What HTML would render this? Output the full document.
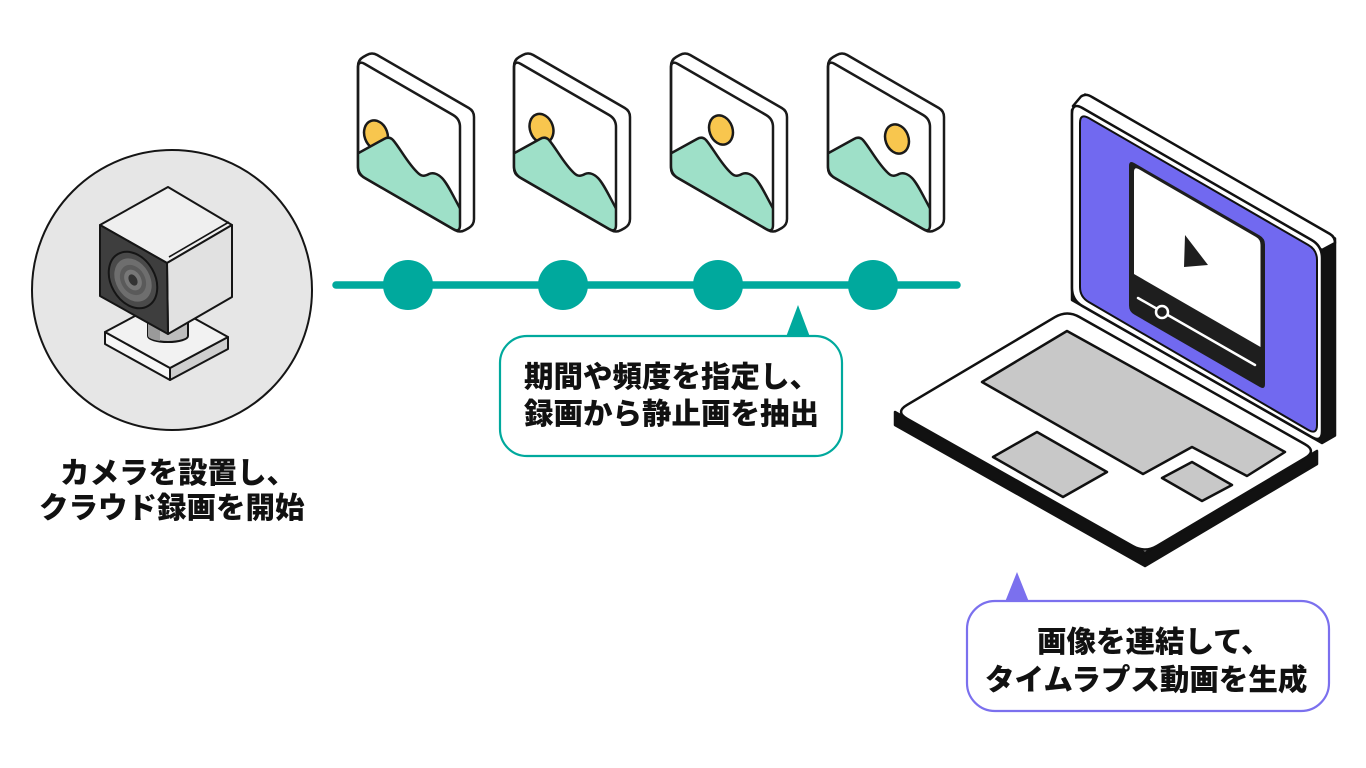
<!DOCTYPE html>
<html><head><meta charset="utf-8"><style>
html,body{margin:0;padding:0;background:#fff;}
svg{display:block;}
text{font-family:"Liberation Sans","Noto Sans CJK JP",sans-serif;font-weight:900;font-size:29.5px;fill:#111;}
</style></head><body>
<svg width="1366" height="768" viewBox="0 0 1366 768" xmlns="http://www.w3.org/2000/svg">
<defs>
<clipPath id="ff"><path d="M0,8 Q0,0 6.9,4 L95.1,55 Q102,59 102,67 L102,165 Q102,173 95.1,169 L6.9,118 Q0,114 0,106 Z"/></clipPath>
</defs>
<rect width="1366" height="768" fill="#fff"/>

<!-- Camera -->
<circle cx="172" cy="290" r="140" fill="#e6e6e6" stroke="#151515" stroke-width="2"/>
<g stroke="#151515" stroke-width="2" stroke-linejoin="round">
  <polygon points="105,332 170,368 170,380 105,344" fill="#f6f6f6"/>
  <polygon points="170,368 228,337 228,349 170,380" fill="#cfcfcf"/>
  <polygon points="105,332 163,301 228,337 170,368" fill="#f2f2f2"/>
  <path d="M148,315 L148,336 A20,6 0 0 0 188,336 L188,315 Z" fill="#bdbdbd"/>
  <path d="M148,318 L148,336 A20,6 0 0 0 160,341 L160,320 Z" fill="#9a9a9a" stroke="none"/>
  <polygon points="100,225 168,187 232,225 167,263" fill="#efefef"/>
  <polygon points="167,263 232,225 232,297 168,334" fill="#e1e1e1"/>
  <polygon points="100,225 167,263 168,334 100,296" fill="#3e3e3e"/>
  <line x1="169" y1="257" x2="229" y2="222" stroke-width="1.6"/>
  <ellipse cx="133" cy="280" rx="22" ry="30" transform="rotate(-30 133 280)" fill="#4a4a4a"/>
  <ellipse cx="133" cy="280" rx="17" ry="23" transform="rotate(-30 133 280)" fill="#6e6e6e" stroke="none"/>
  <ellipse cx="133" cy="280" rx="12" ry="16" transform="rotate(-30 133 280)" fill="#5a5a5a" stroke="none"/>
  <ellipse cx="133" cy="280" rx="8" ry="11" transform="rotate(-30 133 280)" fill="#777" stroke="none"/>
  <ellipse cx="133" cy="280" rx="4" ry="6" transform="rotate(-30 133 280)" fill="#333" stroke="none"/>
</g>
<text x="60" y="483">カメラを設置し、</text>
<text x="39" y="518">クラウド録画を開始</text>

<!-- Frames -->
<g stroke="#1a1a1a" stroke-width="2.5" stroke-linejoin="round">
  <g transform="translate(358,60)">
    <path d="M0,6 Q0,0 5.2,-3 L8.8,-5 Q14,-8 19.2,-5 L110.8,48 Q116,51 116,57 L116,159 Q116,165 110.8,168 L107.2,170 Q102,173 96.8,170 L5.2,117 Q0,114 0,108 Z" fill="#fff"/>
    <g clip-path="url(#ff)">
      <ellipse cx="18" cy="75" rx="11.5" ry="15" transform="rotate(-20 18 75)" fill="#f8c64e"/>
      <path d="M-3,95 L26,79 Q31,76 35,80 C42,88 50,104 60,113 C64,117 67,116 71,114 C75,112 80,114 84,118 C90,124 96,138 104,152 L104,180 L-3,120 Z" fill="#9ee0c8"/>
    </g>
    <path d="M0,8 Q0,0 6.9,4 L95.1,55 Q102,59 102,67 L102,165 Q102,173 95.1,169 L6.9,118 Q0,114 0,106 Z" fill="none"/>
  </g>
  <g transform="translate(514,60)">
    <path d="M0,6 Q0,0 5.2,-3 L8.8,-5 Q14,-8 19.2,-5 L110.8,48 Q116,51 116,57 L116,159 Q116,165 110.8,168 L107.2,170 Q102,173 96.8,170 L5.2,117 Q0,114 0,108 Z" fill="#fff"/>
    <g clip-path="url(#ff)">
      <ellipse cx="27.5" cy="68.5" rx="11.5" ry="15" transform="rotate(-20 27.5 68.5)" fill="#f8c64e"/>
      <path d="M-3,95 L26,79 Q31,76 35,80 C42,88 50,104 60,113 C64,117 67,116 71,114 C75,112 80,114 84,118 C90,124 96,138 104,152 L104,180 L-3,120 Z" fill="#9ee0c8"/>
    </g>
    <path d="M0,8 Q0,0 6.9,4 L95.1,55 Q102,59 102,67 L102,165 Q102,173 95.1,169 L6.9,118 Q0,114 0,106 Z" fill="none"/>
  </g>
  <g transform="translate(671,60)">
    <path d="M0,6 Q0,0 5.2,-3 L8.8,-5 Q14,-8 19.2,-5 L110.8,48 Q116,51 116,57 L116,159 Q116,165 110.8,168 L107.2,170 Q102,173 96.8,170 L5.2,117 Q0,114 0,108 Z" fill="#fff"/>
    <g clip-path="url(#ff)">
      <ellipse cx="50" cy="70" rx="11.5" ry="15" transform="rotate(-20 50 70)" fill="#f8c64e"/>
      <path d="M-3,95 L26,79 Q31,76 35,80 C42,88 50,104 60,113 C64,117 67,116 71,114 C75,112 80,114 84,118 C90,124 96,138 104,152 L104,180 L-3,120 Z" fill="#9ee0c8"/>
    </g>
    <path d="M0,8 Q0,0 6.9,4 L95.1,55 Q102,59 102,67 L102,165 Q102,173 95.1,169 L6.9,118 Q0,114 0,106 Z" fill="none"/>
  </g>
  <g transform="translate(828,60)">
    <path d="M0,6 Q0,0 5.2,-3 L8.8,-5 Q14,-8 19.2,-5 L110.8,48 Q116,51 116,57 L116,159 Q116,165 110.8,168 L107.2,170 Q102,173 96.8,170 L5.2,117 Q0,114 0,108 Z" fill="#fff"/>
    <g clip-path="url(#ff)">
      <ellipse cx="69" cy="79" rx="11.5" ry="15" transform="rotate(-20 69 79)" fill="#f8c64e"/>
      <path d="M-3,95 L26,79 Q31,76 35,80 C42,88 50,104 60,113 C64,117 67,116 71,114 C75,112 80,114 84,118 C90,124 96,138 104,152 L104,180 L-3,120 Z" fill="#9ee0c8"/>
    </g>
    <path d="M0,8 Q0,0 6.9,4 L95.1,55 Q102,59 102,67 L102,165 Q102,173 95.1,169 L6.9,118 Q0,114 0,106 Z" fill="none"/>
  </g>
</g>

<!-- Timeline -->
<line x1="336" y1="285" x2="957" y2="285" stroke="#00a99d" stroke-width="7.5" stroke-linecap="round"/>
<circle cx="408" cy="285" r="25" fill="#00a99d"/>
<circle cx="563" cy="285" r="25" fill="#00a99d"/>
<circle cx="718" cy="285" r="25" fill="#00a99d"/>
<circle cx="873" cy="285" r="25" fill="#00a99d"/>

<!-- Callout 1 -->
<rect x="500" y="336" width="342" height="120" rx="27" fill="#fff" stroke="#00a99d" stroke-width="2.2"/>
<polygon points="786,337 798,305 810,337" fill="#00a99d"/>
<text x="524" y="387">期間や頻度を指定し、</text>
<text x="524" y="424">録画から静止画を抽出</text>

<!-- Laptop -->
<g stroke="#111" stroke-width="2.5" stroke-linejoin="round">
  <polygon points="895,412 1145,553 1317,451 1317,464 1145,566 895,425" fill="#111"/>
  <path d="M907,404.9 Q895,412 907.2,418.9 L1132.8,546.1 Q1145,553 1157,545.9 L1305,458.1 Q1317,451 1304.8,444.1 L1079.2,316.9 Q1067,310 1055,317.1 Z" fill="#fff"/>
  <polygon points="982,382 1067,331 1285,452 1247,476 1192,447 1143,474" fill="#c8c8c8"/>
  <polygon points="993,457 1037,432 1107,472 1063,497" fill="#c8c8c8"/>
  <polygon points="1162,478 1192,462 1232,485 1202,501" fill="#c8c8c8"/>
  <polygon points="1072,110 1085,94.5 1335,238.5 1335,435.5 1322,443 1072,300" fill="#111"/>
  <path d="M1073,106 L1081,96.5 Q1086,93 1092,97 L1330,234 Q1335,237 1335,243 L1322,250 Z" fill="#fff"/>
  <path d="M1072,114 Q1072,102 1082.4,108 L1311.6,240 Q1322,246 1322,258 L1322,431 Q1322,443 1311.6,437 L1082.4,306 Q1072,300 1072,288 Z" fill="#fff"/>
  <path d="M1080,123 Q1080,113 1088.7,118 L1308.3,245 Q1317,250 1317,260 L1317,425 Q1317,435 1308.3,430 L1088.7,302 Q1080,297 1080,287 Z" fill="#7169f0" stroke-width="2"/>
  <path d="M1129,166 Q1129,160 1134.2,163 L1259.8,235.5 Q1265,238.5 1265,244.5 L1265,384 Q1265,390 1259.8,387 L1134.2,314.5 Q1129,311.5 1129,305.5 Z" fill="#1e1e1e" stroke="none"/>
  <path d="M1134,172 Q1134,166.5 1138.5,169 L1256,237 Q1260.5,239.5 1260.5,245 L1260.5,347 L1134,274 Z" fill="#fff" stroke="none"/>
  <line x1="1138" y1="298" x2="1255" y2="365" stroke="#fff" stroke-width="2.5" stroke-linecap="round"/>
  <circle cx="1162" cy="312" r="6" fill="#1e1e1e" stroke="#fff" stroke-width="2.5"/>
  <polygon points="1185,235 1184,267 1208,265" fill="#1e1e1e" stroke="none"/>
</g>

<!-- Callout 2 -->
<rect x="967" y="601" width="362" height="110" rx="28" fill="#fff" stroke="#7b70ee" stroke-width="2.2"/>
<polygon points="1005,602 1017,572 1029,602" fill="#7b70ee"/>
<text x="1037" y="652">画像を連結して、</text>
<text x="985" y="690">タイムラプス動画を生成</text>
</svg>
</body></html>
